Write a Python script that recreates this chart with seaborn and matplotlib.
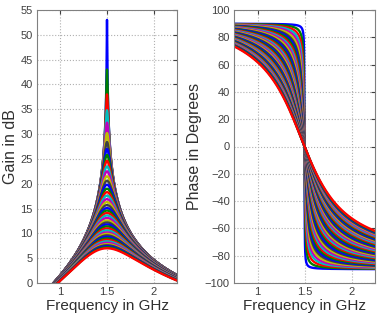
import numpy as np
import pandas as pd
import matplotlib
matplotlib.use("Agg")
import matplotlib.pyplot as plt
import seaborn as sns

# Resonance centre and frequency range (GHz)
f0 = 1.5
freq_lo, freq_hi = 0.75, 2.25

# Peak gain of each curve at f0 in dB (highest Q first)
peak_db = [53.0, 43.0, 38.0, 34.8, 32.3, 30.2, 28.4, 27.0, 25.8, 24.6,
           23.5, 22.5, 21.5, 20.6, 19.8, 19.0, 18.3, 17.6, 16.9, 16.3,
           15.7, 15.1, 14.6, 14.1, 13.6, 13.1, 12.6, 12.2, 11.8, 11.4,
           11.0, 10.6, 10.2, 9.9, 9.6, 9.3, 9.0, 8.7, 8.4, 8.1,
           7.8, 7.6, 7.4, 7.2, 7.0]

# old MATLAB line colour order
line_colors = ["#0000ff", "#008000", "#ff0000", "#00bfbf",
               "#bf00bf", "#bfbf00", "#404040"]

x_ticks = [1, 1.5, 2]
x_ticklabels = ["1", "1.5", "2"]
gain_ticks = list(range(0, 56, 5))
phase_ticks = list(range(-100, 101, 20))


def build_frame():
    freq = np.linspace(freq_lo, freq_hi, 601)
    rows = []
    for i, p in enumerate(peak_db):
        q = 10 ** (p / 20.0)
        r = freq / f0
        h = 1j * r / (1 - r ** 2 + 1j * r / q)
        rows.append(pd.DataFrame({
            "curve": i,
            "Frequency": freq,
            "Gain": 20 * np.log10(np.abs(h)),
            "Phase": np.degrees(np.angle(h)),
        }))
    return pd.concat(rows, ignore_index=True)


df = build_frame()
palette = [line_colors[i % len(line_colors)] for i in range(len(peak_db))]

sns.set_style("white")
plt.rcParams["font.family"] = ["Liberation Sans", "DejaVu Sans"]

fig = plt.figure(figsize=(3.79, 3.13), dpi=100)
ax1 = fig.add_axes([37 / 379, 30 / 313, 140 / 379, 273 / 313])
ax2 = fig.add_axes([234 / 379, 30 / 313, 141 / 379, 273 / 313])

for ax, col, ticks, lims, label in [
        (ax1, "Gain", gain_ticks, (0, 55), "Gain in dB"),
        (ax2, "Phase", phase_ticks, (-100, 100), "Phase in Degrees")]:
    sns.lineplot(data=df, x="Frequency", y=col, hue="curve", palette=palette,
                 linewidth=1.7, legend=False, ax=ax, estimator=None, sort=False)
    ax.set_xlim(freq_lo, freq_hi)
    ax.set_ylim(*lims)
    ax.set_xticks(x_ticks)
    ax.set_xticklabels(x_ticklabels)
    ax.set_yticks(ticks)
    ax.grid(True, linestyle=":", color="#b0b0b0", linewidth=0.8)
    ax.set_axisbelow(True)
    ax.tick_params(direction="in", top=True, right=True, length=3,
                   labelsize=8, colors="#404040", pad=3)
    for s in ax.spines.values():
        s.set_color("#808080")
        s.set_linewidth(0.8)
    ax.set_xlabel("Frequency in GHz", fontsize=11, color="#303030", labelpad=1)
    ax.set_ylabel(label, fontsize=11.5, color="#303030", labelpad=2)

fig.savefig("out.png", dpi=100)
